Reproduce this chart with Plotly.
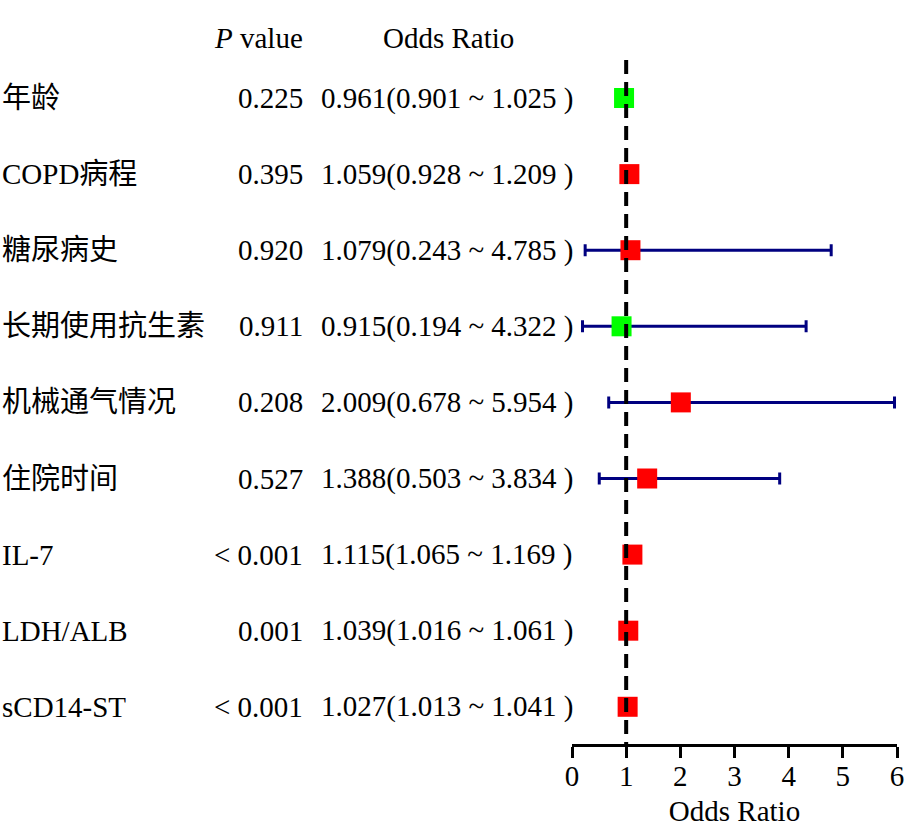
import plotly.graph_objects as go

labels = ["年龄", "COPD病程", "糖尿病史", "长期使用抗生素", "机械通气情况",
          "住院时间", "IL-7", "LDH/ALB", "sCD14-ST"]
p_values = ["0.225", "0.395", "0.920", "0.911", "0.208", "0.527", "< 0.001", "0.001", "< 0.001"]
odds = [0.961, 1.059, 1.079, 0.915, 2.009, 1.388, 1.115, 1.039, 1.027]
ci_low = [0.901, 0.928, 0.243, 0.194, 0.678, 0.503, 1.065, 1.016, 1.013]
ci_high = [1.025, 1.209, 4.785, 4.322, 5.954, 3.834, 1.169, 1.061, 1.041]
x_ticks = [0, 1, 2, 3, 4, 5, 6]

W, H = 917, 827
FONT = "Liberation Serif, Noto Sans CJK SC, serif"
FS = 29

rows = list(range(len(labels)))
colors = ["#00FF00" if o < 1 else "#FF0000" for o in odds]

fig = go.Figure()
fig.add_trace(go.Scatter(
    x=odds, y=rows, mode="markers",
    marker=dict(symbol="square", size=20, color=colors, line=dict(width=0)),
    error_x=dict(type="data", symmetric=False,
                 array=[h - o for h, o in zip(ci_high, odds)],
                 arrayminus=[o - l for o, l in zip(odds, ci_low)],
                 color="#000080", thickness=3, width=6),
    showlegend=False, hoverinfo="skip",
))

y_top = -1.288
y_bot = 8.489

fig.add_shape(type="line", xref="x", yref="y", x0=1, x1=1, y0=-0.5, y1=y_bot,
              line=dict(color="black", width=4, dash="14px,8px"))

ann = []
header_y = -0.79
ann.append(dict(x=305 / W, xref="paper", y=header_y, yref="y", xanchor="right", yanchor="middle",
                text="<i>P</i> value", showarrow=False, font=dict(family=FONT, size=FS, color="black")))
ann.append(dict(x=448 / W, xref="paper", y=header_y, yref="y", xanchor="center", yanchor="middle",
                text="Odds Ratio", showarrow=False, font=dict(family=FONT, size=FS, color="black")))
for i, lab in enumerate(labels):
    ann.append(dict(x=0, xref="paper", y=i, yref="y", xanchor="left", yanchor="middle",
                    text=lab, showarrow=False, font=dict(family=FONT, size=FS, color="black")))
    ann.append(dict(x=305 / W, xref="paper", y=i, yref="y", xanchor="right", yanchor="middle",
                    text=p_values[i], showarrow=False, font=dict(family=FONT, size=FS, color="black")))
    ann.append(dict(x=319 / W, xref="paper", y=i, yref="y", xanchor="left", yanchor="middle",
                    text=f"{odds[i]:.3f}({ci_low[i]:.3f} ~ {ci_high[i]:.3f} )", showarrow=False,
                    font=dict(family=FONT, size=FS, color="black")))

fig.update_layout(
    width=W, height=H,
    margin=dict(l=0, r=0, t=0, b=83, autoexpand=False),
    paper_bgcolor="white", plot_bgcolor="white",
    annotations=ann,
    xaxis=dict(range=[0, 6], domain=[572 / W, 897 / W], showgrid=False, zeroline=False,
               automargin=False,
               showline=True, linecolor="black", linewidth=2.5,
               ticks="outside", ticklen=11, tickwidth=2.5, tickcolor="black",
               ticklabelstandoff=-7,
               tickvals=x_ticks, ticktext=[str(t) for t in x_ticks],
               tickfont=dict(family=FONT, size=FS, color="black"),
               title=dict(text="Odds Ratio", font=dict(family=FONT, size=FS, color="black"), standoff=14)),
    yaxis=dict(range=[y_bot, y_top], visible=False, showgrid=False, zeroline=False, automargin=False),
)

fig.write_html("out.html", config={"displayModeBar": False},
               post_script="document.body.style.margin='0';document.body.style.overflow='hidden';")
